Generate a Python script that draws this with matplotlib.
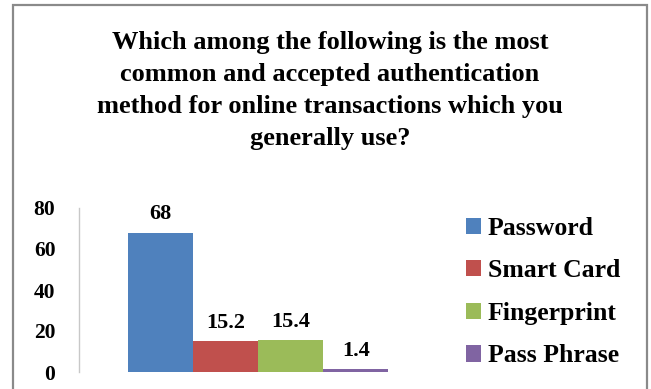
import numpy as np
import matplotlib.pyplot as plt
from matplotlib.patches import Rectangle

# Datos
methods = ["Password", "Smart Card", "Fingerprint", "Pass Phrase"]
values = [68, 15.2, 15.4, 1.4]
colors = ["#4F81BD", "#C0504D", "#9BBB59", "#8064A2"]
yticks = [0, 20, 40, 60, 80]

title = ("Which among the following is the most\n"
         "common and accepted authentication\n"
         "method for online transactions which you\n"
         "generally use?")

plt.rcParams['font.family'] = ['Liberation Serif', 'DejaVu Serif']
plt.rcParams['font.weight'] = 'bold'

fig = plt.figure(figsize=(6.51, 3.89), dpi=100)
fig.patch.set_facecolor('white')

# marco del grafico
fig.patches.append(Rectangle((13/651, -0.05), 634/651, 1.05 - 5/389,
                             transform=fig.transFigure, fill=False,
                             edgecolor='#8a8a8a', linewidth=1.6))

fig.text(330/651, 1 - 90/389, title, ha='center', va='center',
         fontsize=19, fontweight='bold', linespacing=1.5)

ax = fig.add_axes([79/651, 1 - 372/389, 358/651, 164/389])

x = np.arange(len(values))
for i in range(len(values)):
    ax.bar(x[i], values[i], width=1.0, color=colors[i], label=methods[i])
    ax.text(x[i], values[i] + 4, f"{values[i]:g}", ha='center', va='bottom',
            fontsize=16, fontweight='bold')

ax.set_xlim(-1.25, 4.25)
ax.set_ylim(0, 80)
ax.set_yticks(yticks)
ax.set_xticks([])
ax.tick_params(axis='y', length=0, pad=17, labelsize=15.5)
for lab in ax.get_yticklabels():
    lab.set_fontweight('bold')

for s in ['top', 'right', 'bottom']:
    ax.spines[s].set_visible(False)
ax.spines['left'].set_color('#c8c8c8')
ax.spines['left'].set_linewidth(1.0)
ax.patch.set_alpha(0)

fig.legend(loc='upper left', bbox_to_anchor=(453/651, 1 - 204/389),
           frameon=False, handlelength=0.6, handleheight=0.6,
           handletextpad=0.25, labelspacing=0.76, borderpad=0,
           prop={'weight': 'bold', 'size': 18.5})

fig.savefig("out.png", dpi=100)
